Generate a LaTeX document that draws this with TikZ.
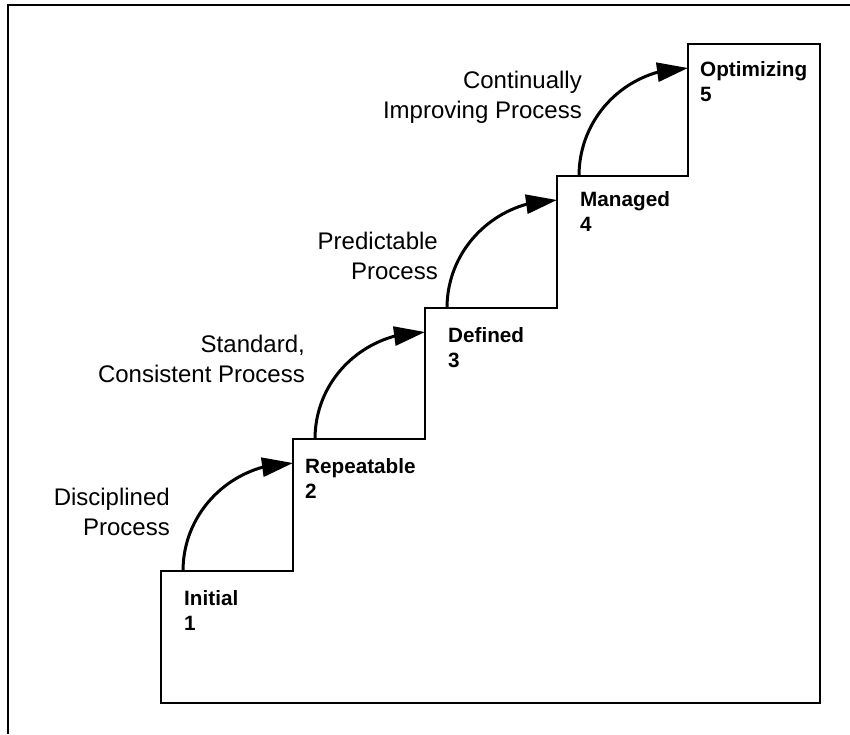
\documentclass[tikz,border=0pt]{standalone}
\usepackage{fontspec}
\setmainfont{Liberation Sans}
\usetikzlibrary{arrows.meta,bending}
\begin{document}
\begin{tikzpicture}[x=1pt,y=-1pt,
  stair/.style={line width=1.5pt, line join=miter},
  climb/.style={line width=3pt, -{Triangle[length=31pt,width=19pt]}},
  level/.style={font=\bfseries\fontsize{20.7}{25}\selectfont, align=left, anchor=north west, inner sep=0pt},
  note/.style={font=\fontsize{24}{30}\selectfont, align=right, anchor=north east, inner sep=0pt}]
\useasboundingbox (0,0) rectangle (850,734);
% frame
\coordinate (fTL) at (8,5);
\coordinate (fTR) at (850,5);
\coordinate (fBL) at (8,734);
\draw[line width=1.3pt] (fTL) -- (fTR);
\draw[line width=2.3pt] ([yshift=0.65pt]fTL) -- (fBL);
% staircase corners
\coordinate (c0) at (161,571);
\coordinate (c1) at (293,571);
\coordinate (c2) at (293,439);
\coordinate (c3) at (425,439);
\coordinate (c4) at (425,308);
\coordinate (c5) at (557,308);
\coordinate (c6) at (557,176);
\coordinate (c7) at (688,176);
\coordinate (c8) at (688,44);
\coordinate (c9) at (820,44);
\coordinate (c10) at (820,703);
\coordinate (c11) at (161,703);
\draw[stair] (c0) -- (c1) -- (c2) -- (c3) -- (c4) -- (c5) -- (c6) -- (c7) -- (c8) -- (c9) -- (c10) -- (c11) -- cycle;
% level labels
\node[level] (l1) at (184,590) {Initial\\1};
\node[level] (l2) at (305,458) {Repeatable\\2};
\node[level] (l3) at (448,327) {Defined\\3};
\node[level] (l4) at (580,191) {Managed\\4};
\node[level] (l5) at (700,61) {Optimizing\\5};
% arrows
\coordinate (a1) at (183,571); \coordinate (b1) at (293,463);
\coordinate (a2) at (315,439); \coordinate (b2) at (425,332);
\coordinate (a3) at (447,308); \coordinate (b3) at (557,200);
\coordinate (a4) at (579,176); \coordinate (b4) at (688,68);
\foreach \i in {1,2,3,4}{
  \draw[climb] (a\i) .. controls +(0,-60) and +(-60.5,0) .. (b\i);
}
% process labels
\node[note] (p1) at (170,488) {Disciplined\\Process};
\node[note] (p2) at (305,335) {Standard,\\Consistent Process};
\node[note] (p3) at (438,232) {Predictable\\Process};
\node[note] (p4) at (582,71) {Continually\\Improving Process};
\end{tikzpicture}
\end{document}
